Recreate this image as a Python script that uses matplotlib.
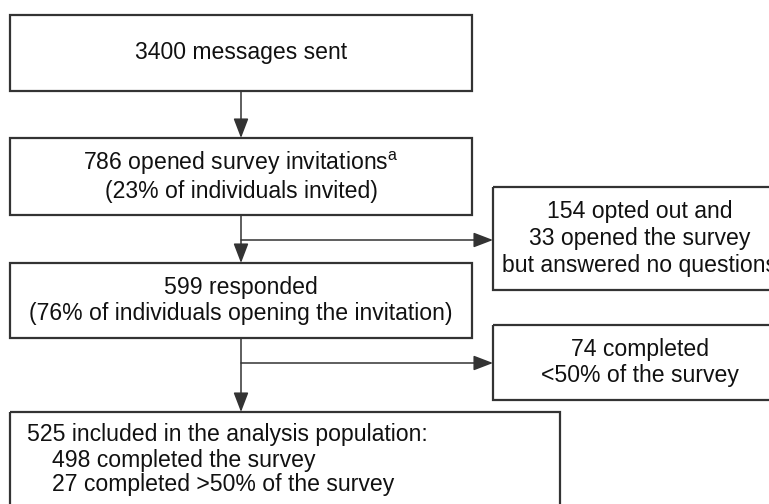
import matplotlib
matplotlib.use("Agg")
import matplotlib.pyplot as plt
from matplotlib.patches import Rectangle, FancyArrowPatch

plt.rcParams['font.family'] = ['Liberation Sans', 'DejaVu Sans']
plt.rcParams['mathtext.fontset'] = 'custom'
plt.rcParams['mathtext.rm'] = 'Liberation Sans'

# === D A T A ===

main_labels = [
  "3400 messages sent",
  "786 opened survey invitations$^{\\mathrm{a}}$\n(23% of individuals invited)",
  "599 responded\n(76% of individuals opening the invitation)",
]
side_labels = [
  "154 opted out and\n33 opened the survey\nbut answered no questions",
  "74 completed\n<50% of the survey",
]
final_head = "525 included in the analysis population:"
final_items = ["498 completed the survey", "27 completed >50% of the survey"]

# === L A Y O U T  (pixels, y down) ===

main_boxes = [(10, 15, 462, 76), (10, 138, 462, 77), (10, 263, 462, 75)]
side_boxes = [(493, 187, 294, 103), (493, 325, 294, 75)]
final_box = (10, 412, 550, 110)
spine_x = 241
branch_y = [240, 363]
side_cx = 640

edge = '#333333'
fs = 16.6

fig = plt.figure(figsize=(7.69, 5.04), dpi=100)
ax = fig.add_axes([0, 0, 1, 1])
ax.set_xlim(0, 769)
ax.set_ylim(504, 0)
ax.axis('off')

def box(b):
  ax.add_patch(Rectangle((b[0], b[1]), b[2], b[3], fill=False, ec=edge, lw=1.6))

def arrow(p0, p1):
  ax.add_patch(FancyArrowPatch(p0, p1, arrowstyle='-|>,head_length=0.6,head_width=0.23',
                               mutation_scale=20, color=edge, lw=1.1,
                               shrinkA=0, shrinkB=0))

for b, lab in zip(main_boxes, main_labels):
  box(b)
  ax.text(spine_x, b[1] + b[3]/2, lab, ha='center', va='center', fontsize=fs,
          multialignment='center', linespacing=1.2, color='#111111')

for b, lab in zip(side_boxes, side_labels):
  box(b)
  ax.text(side_cx, b[1] + b[3]/2, lab, ha='center', va='center', fontsize=fs,
          multialignment='center', linespacing=1.2, color='#111111')

box(final_box)
ax.text(27, 435, final_head, ha='left', va='center', fontsize=fs, color='#111111')
for i, item in enumerate(final_items):
  ax.text(52, 460 + 25*i, item, ha='left', va='center', fontsize=fs, color='#111111')

# vertical arrows
mb = main_boxes
arrow((spine_x, mb[0][1] + mb[0][3]), (spine_x, mb[1][1]))
arrow((spine_x, mb[1][1] + mb[1][3]), (spine_x, mb[2][1]))
arrow((spine_x, mb[2][1] + mb[2][3]), (spine_x, final_box[1]))

# branch arrows
for y, sb in zip(branch_y, side_boxes):
  arrow((spine_x, y), (sb[0], y))

fig.savefig("out.png", dpi=100)
